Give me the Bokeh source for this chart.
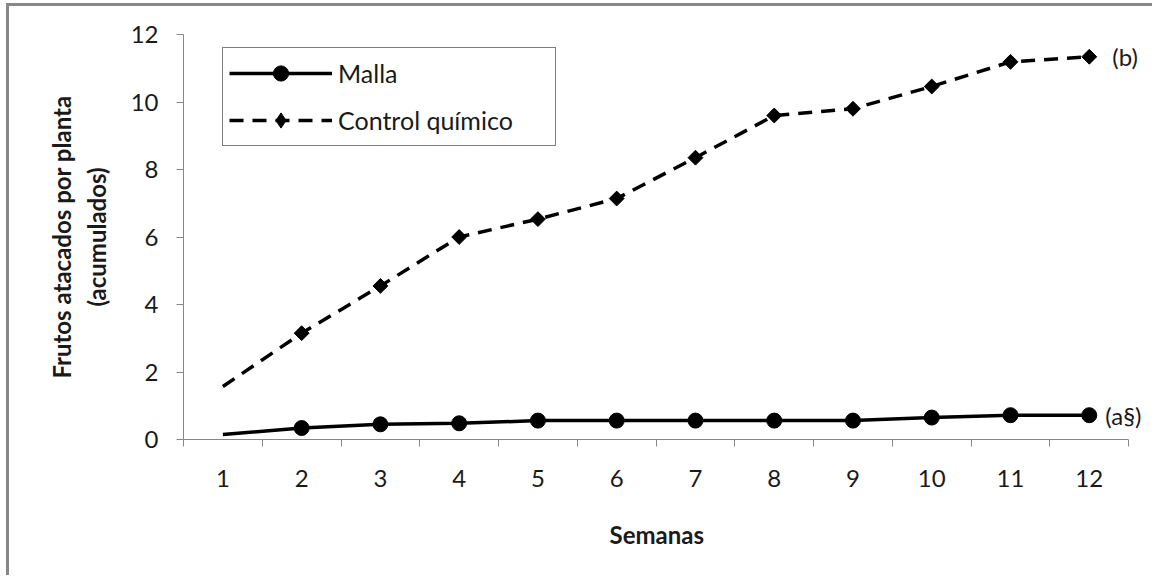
from bokeh.plotting import figure
from bokeh.models import Range1d, FixedTicker, Legend, LegendItem, Label, ColumnDataSource, Title
from bokeh.embed import file_html
from bokeh.resources import INLINE

# ---- data ----
weeks = [1, 2, 3, 4, 5, 6, 7, 8, 9, 10, 11, 12]
malla = [0.15, 0.34, 0.45, 0.48, 0.56, 0.56, 0.56, 0.56, 0.56, 0.65, 0.72, 0.72]
control = [1.57, 3.15, 4.55, 6.00, 6.53, 7.14, 8.35, 9.60, 9.80, 10.46, 11.19, 11.34]
y_ticks = [0, 2, 4, 6, 8, 10, 12]
series_names = ["Malla", "Control químico"]
end_notes = ["(a§)", "(b)"]
x_title = "Semanas"
y_title = "Frutos atacados por planta\n(acumulados)"

FONT = "Lato"
AXIS_GRAY = "#868686"
TEXT = "#1a1a1a"

src_line = ColumnDataSource(dict(x=weeks, m=malla, c=control))
# the reference shows no marker on the first week
src_mark = ColumnDataSource(dict(x=weeks[1:], m=malla[1:], c=control[1:]))

x_lo = weeks[0] - 0.5
x_hi = weeks[-1] + 0.5
extra = 0.29  # room to the right of the axis for the end notes

p = figure(width=1146, height=572, output_backend="svg", toolbar_location=None,
           x_range=Range1d(x_lo, x_hi + extra),
           y_range=Range1d(y_ticks[0], y_ticks[-1]))
p.min_border_left = 174
p.min_border_right = 4
p.min_border_top = 28
p.min_border_bottom = 139
p.outline_line_color = None
p.background_fill_color = "white"
p.border_fill_color = "white"
p.xgrid.visible = False
p.ygrid.visible = False
p.styles = {"border-top": "3px solid #878787", "border-left": "3px solid #878787",
            "margin-top": "3px", "margin-left": "6px"}

# x axis: labels at week centres, ticks at boundaries
xb = [w - 0.5 for w in weeks] + [x_hi]
p.xaxis.ticker = FixedTicker(ticks=weeks, minor_ticks=xb)
p.xaxis.bounds = (x_lo, x_hi)
p.xaxis.major_tick_out = 0
p.xaxis.major_tick_in = 0
p.xaxis.minor_tick_out = 7
p.xaxis.minor_tick_in = 0
p.xaxis.minor_tick_line_color = AXIS_GRAY
p.xaxis.axis_line_color = AXIS_GRAY
p.xaxis.major_label_standoff = 23

p.yaxis.ticker = FixedTicker(ticks=y_ticks, minor_ticks=[])
p.yaxis.major_tick_out = 7
p.yaxis.major_tick_in = 0
p.yaxis.major_tick_line_color = AXIS_GRAY
p.yaxis.minor_tick_line_color = None
p.yaxis.axis_line_color = AXIS_GRAY
p.yaxis.major_label_standoff = 18
p.yaxis.axis_label = y_title
p.yaxis.axis_label_standoff = 17

for ax in (p.xaxis, p.yaxis):
    ax.major_label_text_font = FONT
    ax.major_label_text_font_size = "24px"
    ax.major_label_text_color = TEXT
    ax.axis_label_text_font = FONT
    ax.axis_label_text_font_size = "24px"
    ax.axis_label_text_font_style = "bold"
    ax.axis_label_text_color = TEXT

# x title centred under the axis (not under the widened frame)
p.add_layout(Title(text=x_title, align="left", offset=426, standoff=56,
                   text_font=FONT, text_font_size="24px", text_font_style="bold",
                   text_color=TEXT), "below")

# series
lm = p.line("x", "m", source=src_line, line_color="black", line_width=3.5)
sm = p.scatter("x", "m", source=src_mark, marker="circle", size=15,
               fill_color="black", line_color="black")
lc = p.line("x", "c", source=src_line, line_color="black", line_width=3.5,
            line_dash="14 9")
sc = p.scatter("x", "c", source=src_mark, marker="square", size=10.5, angle=0.785398,
               fill_color="black", line_color="black")
# legend key (the legend does not rotate markers): hidden diamond renderer
sc_key = p.scatter("x", "c", source=src_mark, marker="diamond", size=16,
                   fill_color="black", line_color="black", visible=False)

legend = Legend(items=[LegendItem(label=series_names[0], renderers=[lm, sm]),
                       LegendItem(label=series_names[1], renderers=[lc, sc_key])],
                location=(39, 293))
legend.border_line_color = "black"
legend.border_line_width = 1
legend.background_fill_color = "white"
legend.background_fill_alpha = 1
legend.inactive_fill_alpha = 0
legend.padding = 6
legend.margin = 0
legend.spacing = 9
legend.glyph_width = 103
legend.glyph_height = 38
legend.label_standoff = 6
legend.label_text_font = FONT
legend.label_text_font_size = "25px"
legend.label_text_color = TEXT
legend.label_width = 211
p.add_layout(legend)

p.add_layout(Label(x=weeks[-1], y=malla[-1], text=end_notes[0], x_offset=16,
                   text_baseline="middle", text_font=FONT, text_font_size="24px",
                   text_color=TEXT))
p.add_layout(Label(x=weeks[-1], y=control[-1], text=end_notes[1], x_offset=23,
                   text_baseline="middle", text_font=FONT, text_font_size="24px",
                   text_color=TEXT))

open("out.html", "w").write(file_html(p, INLINE))
